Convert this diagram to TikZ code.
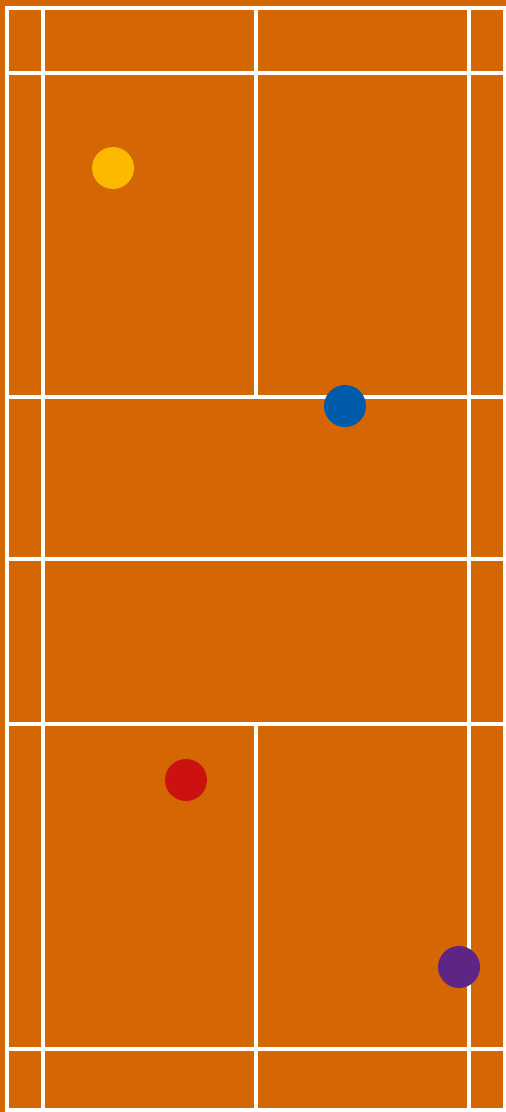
\documentclass[tikz,border=0pt]{standalone}
\definecolor{court}{HTML}{D46703}
\definecolor{pyellow}{HTML}{FDB800}
\definecolor{pblue}{HTML}{005BAA}
\definecolor{pred}{HTML}{CC1111}
\definecolor{ppurple}{HTML}{5E2585}
\begin{document}
\begin{tikzpicture}[x=1pt,y=-1pt,
  courtline/.style={draw=white,line width=4pt},
  player/.style={circle,inner sep=0pt,minimum size=42pt}]
\fill[court] (0,0) rectangle (506,1112);
\useasboundingbox (0,0) rectangle (506,1112);
% outer boundary
\draw[courtline] (7,8) rectangle (504.5,1110);
% side lines (singles)
\draw[courtline] (43.3,8) -- (43.3,1110);
\draw[courtline] (468.8,8) -- (468.8,1110);
% horizontal lines
\foreach \yy in {73.3,397,559,724,1049}
  \draw[courtline] (7,\yy) -- (504.5,\yy);
% centre lines
\draw[courtline] (256,8) -- (256,397);
\draw[courtline] (256,724) -- (256,1110);
% players
\node[player,fill=pyellow] (p1) at (113,168) {};
\node[player,fill=pblue] (p2) at (345,406) {};
\node[player,fill=pred] (p3) at (186,780) {};
\node[player,fill=ppurple] (p4) at (459,967) {};
\end{tikzpicture}
\end{document}
